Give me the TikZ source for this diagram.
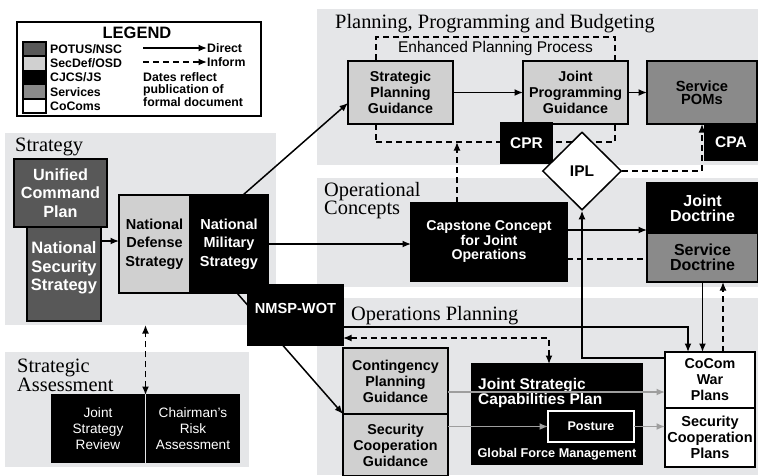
\documentclass[tikz,border=0pt]{standalone}
\usepackage{fontspec}
\setmainfont{Liberation Serif}
\setsansfont{Liberation Sans}
\usetikzlibrary{shapes.geometric}
\usetikzlibrary{positioning}
\usetikzlibrary{arrows.meta}
\definecolor{potus}{RGB}{88,88,88}
\definecolor{osd}{RGB}{208,208,208}
\definecolor{svc}{RGB}{138,138,138}
\definecolor{bggray}{RGB}{229,230,232}
\newcommand\fsz[2]{\fontsize{#1}{#2}\selectfont}
\tikzset{
    mybox/.style = {rectangle, line width=1.5pt, draw=black, align=center, inner sep=0pt, outer sep=0pt, font=\sffamily\bfseries\fsz{14.3}{16}},
    myboxp/.style = {mybox, fill=potus, text=white, font=\sffamily\bfseries\fsz{16.2}{18.5}},
    myboxo/.style = {mybox, fill=osd, text=black},
    myboxj/.style = {mybox, fill=black, text=white},
    myboxs/.style = {mybox, fill=svc, text=black},
    myboxc/.style = {mybox, fill=white, text=black},
    eppbox/.style = {rectangle, draw=black, line width=1.5pt, dash pattern=on 6pt off 4pt, inner sep=0pt, outer sep=0pt},
    panel/.style = {rectangle, fill=bggray, inner sep=0pt, outer sep=0pt, anchor=north west},
    paneltitle/.style = {font=\rmfamily\mdseries\fsz{20.4}{18.5}, align=left, inner sep=0pt},
    keytxt/.style = {font=\sffamily\bfseries\fsz{12.3}{12.5}, align=left, inner sep=0pt, anchor=west},
    edgen/.style = {-{Latex[length=8.5pt,width=7pt]}, line width=1.5pt, black},
    edgei/.style = {edgen, dash pattern=on 6pt off 4pt}, % inform
    edgeib/.style = {edgei, {Latex[length=8.5pt,width=7pt]}-{Latex[length=8.5pt,width=7pt]}},
    edgeid/.style = {-, line width=1.5pt, black, dash pattern=on 6pt off 4pt},
    edgeg/.style = {edgen, black!38},
}

\begin{document}
\begin{tikzpicture}[x=1pt, y=-1pt, font=\sffamily\bfseries]
  \useasboundingbox (0,0) rectangle (758,475);
  % panels
  \node[panel, minimum width=271pt, minimum height=192pt] (strategy) at (5,133) {};
  \node[panel, minimum width=441pt, minimum height=156pt] (ppb) at (317,9) {};
  \node[panel, minimum width=441pt, minimum height=109pt] (opcon) at (317,178) {};
  \node[panel, minimum width=441pt, minimum height=177pt] (opsplan) at (317,298) {};
  \node[panel, minimum width=244pt, minimum height=115pt] (assess) at (5,352) {};
  \node[paneltitle, anchor=base west] (tstrat) at (15,151) {Strategy};
  \node[paneltitle, anchor=base west] (tppb) at (335,28) {Planning, Programming and Budgeting};
  \node[paneltitle, anchor=north west] (topcon) at (324,182) {Operational\\Concepts};
  \node[paneltitle, anchor=base west] (tops) at (351,320) {Operations Planning};
  \node[paneltitle, anchor=north west] (tassess) at (17,359) {Strategic\\Assessment};

  % legend
  \node[draw=black, line width=1.5pt, fill=white, anchor=north west, minimum width=244pt, minimum height=94pt, inner sep=0pt] (legend) at (16,21) {};
  \node[font=\sffamily\bfseries\fsz{16.5}{18}, inner sep=0pt] (legtitle) at (137,33) {LEGEND};
  \node[myboxp, anchor=north west, minimum width=23pt, minimum height=14.2pt] (kp) at (23,42) {};
  \node[myboxo, below=0pt of kp, minimum width=23pt, minimum height=14.2pt] (ko) {};
  \node[myboxj, below=0pt of ko, minimum width=23pt, minimum height=14.2pt] (kj) {};
  \node[myboxs, below=0pt of kj, minimum width=23pt, minimum height=14.2pt] (ks) {};
  \node[myboxc, below=0pt of ks, minimum width=23pt, minimum height=14.2pt] (kc) {};
  \node[keytxt, right=4pt of kp] (kptxt) {POTUS/NSC};
  \node[keytxt, right=4pt of ko] (kotxt) {SecDef/OSD};
  \node[keytxt, right=4pt of kj] (kjtxt) {CJCS/JS};
  \node[keytxt, right=4pt of ks] (kstxt) {Services};
  \node[keytxt, right=4pt of kc] (kctxt) {CoComs};
  \coordinate (kd0) at (143,48);
  \node[keytxt] (kdir) at (207,48) {Direct};
  \draw[edgen] (kd0) -- (kdir.west);
  \coordinate (ki0) at (143,62);
  \node[keytxt] (kinf) at (207,62) {Inform};
  \draw[edgei] (ki0) -- (kinf.west);
  \node[keytxt, anchor=north west] (kdate) at (143,72) {Dates reflect\\publication of\\formal document};

  % planning, programming and budgeting
  \node[eppbox, anchor=north west, minimum width=239pt, minimum height=105pt] (epp) at (376,37) {};
  \node[font=\sffamily\mdseries\fsz{15.5}{17}, inner sep=0pt] (epptxt) at ([yshift=-11pt]epp.north) {Enhanced Planning Process};
  \node[myboxo, anchor=north west, minimum width=105pt, minimum height=63pt] (spg) at (348,61) {Strategic\\Planning\\Guidance};
  \node[myboxo, anchor=north west, minimum width=105pt, minimum height=63pt] (jpg) at (523,61) {Joint\\Programming\\Guidance};
  \node[myboxs, anchor=north west, minimum width=110pt, minimum height=63pt, font=\sffamily\bfseries\fsz{14.7}{13.5}] (pom) at (647,61) {Service\\POMs};
  \node[myboxj, anchor=north west, minimum width=51pt, minimum height=40pt, font=\sffamily\bfseries\fsz{15.5}{17}] (cpr) at (501,123) {CPR};
  \node[myboxj, anchor=north west, minimum width=52pt, minimum height=36pt, font=\sffamily\bfseries\fsz{15.5}{17}] (cpa) at (705,124) {CPA};

  % operational concepts
  \node[myboxj, anchor=north west, minimum width=156pt, minimum height=78pt, font=\sffamily\bfseries\fsz{14.2}{14.5}] (capstone) at (411,203) {Capstone Concept\\for Joint\\Operations};
  \node[myboxj, anchor=north west, minimum width=111pt, minimum height=50pt, font=\sffamily\bfseries\fsz{16}{15}] (jd) at (647,183) {Joint\\Doctrine};
  \node[myboxs, below=0pt of jd, minimum width=111pt, minimum height=49pt, font=\sffamily\bfseries\fsz{16}{15}] (sd) {Service\\Doctrine};

  % strategy
  \node[myboxp, anchor=north west, minimum width=74pt, minimum height=106pt, font=\sffamily\bfseries\fsz{16.5}{18.5}] (nss) at (27,215) {National\\Security\\Strategy};
  \node[myboxp, anchor=north west, minimum width=93pt, minimum height=68pt] (ucp) at (14,159) {Unified\\Command\\Plan};
  \node[myboxo, anchor=north west, minimum width=71pt, minimum height=98pt, font=\sffamily\bfseries\fsz{14.5}{18.5}] (nds) at (119,195) {National\\Defense\\Strategy};
  \node[myboxj, right=0pt of nds, minimum width=78pt, minimum height=98pt, font=\sffamily\bfseries\fsz{14.5}{18.5}] (nms) {National\\Military\\Strategy};

  % strategic assessment
  \node[myboxj, anchor=north west, minimum width=92pt, minimum height=67pt, font=\sffamily\mdseries\fsz{13.6}{16}] (jsr) at (52,395) {Joint\\Strategy\\Review};
  \node[myboxj, right=3pt of jsr, minimum width=92pt, minimum height=67pt, font=\sffamily\mdseries\fsz{13.6}{16}] (cra) {Chairman's\\Risk\\Assessment};

  % operations planning
  \node[myboxo, anchor=north west, minimum width=105pt, minimum height=66pt] (cpg) at (343,348) {Contingency\\Planning\\Guidance};
  \node[myboxo, below=0pt of cpg, minimum width=105pt, minimum height=62pt] (scg) {Security\\Cooperation\\Guidance};
  \node[myboxj, anchor=north west, minimum width=170pt, minimum height=100pt] (jscp) at (472,364) {};
  \node[anchor=north west, align=left, inner sep=0pt, text=white, font=\sffamily\bfseries\fsz{15.5}{15.5}] (jscptxt) at (478,378) {Joint Strategic\\Capabilities Plan};
  \node[inner sep=0pt, text=white, font=\sffamily\bfseries\fsz{12.7}{14}] (gfm) at ([yshift=10pt]jscp.south) {Global Force Management};
  \node[myboxj, draw=white, anchor=north west, minimum width=86pt, minimum height=31pt, font=\sffamily\bfseries\fsz{12.6}{14}] (posture) at (548,411) {Posture};
  \node[myboxc, anchor=north west, minimum width=90pt, minimum height=56pt] (cwp) at (665,352) {CoCom\\War\\Plans};
  \node[myboxc, below=0pt of cwp, minimum width=90pt, minimum height=59pt, font=\sffamily\bfseries\fsz{14.5}{16}] (scp) {Security\\Cooperation\\Plans};

  \node[diamond, aspect=1, draw=black, fill=white, line width=1.5pt, minimum width=79pt, minimum height=78pt, inner sep=0pt, font=\sffamily\bfseries\fsz{15.5}{17}] (ipl) at (582,171) {IPL};

  % connectors
  \draw[edgen] ([yshift=27pt]nss.east) -- ([yshift=3pt]nds.west);
  \draw[edgen] ([xshift=14pt]nms.north) -- ([yshift=-10.5pt]spg.west);
  \draw[edgen] (nms.east) -- (nms.east -| capstone.west);
  \draw[edgen] ([xshift=8pt]nms.south) -- (scg.north west);
  \node[myboxj, anchor=north west, minimum width=95pt, text height=28pt, text depth=32pt, font=\sffamily\bfseries\fsz{14.6}{16}] (nmsp) at (248,285) {NMSP-WOT};
  \draw[edgen] (spg.east) -- (jpg.west);
  \draw[edgen] (jpg.east) -- (pom.west);
  \draw[edgei] ([xshift=-32pt]capstone.north) -- ([xshift=-32pt]capstone.north |- epp.south);
  \draw[edgei] (ipl.east) -| (pom.south);
  \draw[edgen] ([yshift=12pt]capstone.east) -- ([yshift=12pt]capstone.east -| jd.west);
  \draw[edgeid] ([yshift=-17pt]capstone.east) -- ([yshift=-17pt]capstone.east -| sd.west);
  \draw[edgen] ([yshift=22pt]cwp.west) -| (ipl.south);
  \draw[edgen] ([yshift=-12pt]nmsp.east) -| ([xshift=-22pt]cwp.north);
  \draw[edgen] (sd.south) -- (sd.south |- cwp.north);
  \draw[edgei] ([xshift=13pt]cwp.north) -- ([xshift=13pt]cwp.north |- sd.south);
  \draw[edgeib] ([yshift=-23pt]nmsp.east) -| ([xshift=-8pt]jscp.north);
  \draw[edgeg] ([yshift=-11pt]cpg.east) -- ([yshift=-11pt]cpg.east -| cwp.west);
  \draw[edgeg] (scg.east |- posture.west) -- (posture.west);
  \draw[edgeg] (posture.east) -- (posture.east -| scp.west);
  \draw[edgeib] ([xshift=1.5pt]jsr.north east) -- ([xshift=1.5pt]jsr.north east |- strategy.south);
\end{tikzpicture}
\end{document}
